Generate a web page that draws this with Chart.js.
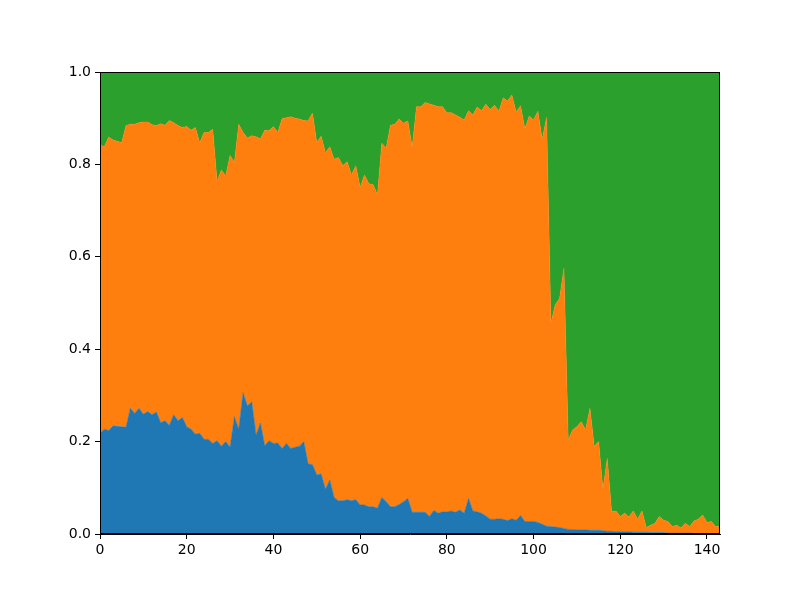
<!DOCTYPE html>
<html lang="en">
<head>
    <meta charset="UTF-8">
    <title>Stacked shares</title>
    <script src="https://cdn.jsdelivr.net/npm/chart.js"></script>
    <style>
        body {
            margin: 0;
            background: #ffffff;
        }
        .wrap {
            width: 800px;
            height: 600px;
        }
    </style>
</head>
<body>
    <div class="wrap">
        <canvas id="stackChart" width="800" height="600"></canvas>
    </div>

    <script>
        // values, one per step 0..143
        const blueShare = [
            0.218, 0.227, 0.224, 0.234, 0.233, 0.232, 0.231, 0.272, 0.261, 0.272,
            0.259, 0.265, 0.258, 0.264, 0.241, 0.245, 0.235, 0.258, 0.245, 0.252,
            0.232, 0.227, 0.216, 0.218, 0.205, 0.205, 0.196, 0.202, 0.190, 0.200,
            0.188, 0.254, 0.227, 0.306, 0.277, 0.286, 0.214, 0.240, 0.191, 0.202,
            0.196, 0.197, 0.185, 0.196, 0.185, 0.188, 0.190, 0.200, 0.152, 0.150,
            0.128, 0.130, 0.097, 0.117, 0.079, 0.072, 0.072, 0.074, 0.072, 0.074,
            0.063, 0.063, 0.059, 0.059, 0.056, 0.079, 0.070, 0.059, 0.059, 0.064,
            0.070, 0.077, 0.047, 0.047, 0.047, 0.047, 0.038, 0.051, 0.045, 0.048,
            0.048, 0.050, 0.047, 0.052, 0.045, 0.077, 0.050, 0.048, 0.045, 0.039,
            0.032, 0.032, 0.033, 0.032, 0.029, 0.033, 0.030, 0.040, 0.027, 0.027,
            0.027, 0.025, 0.021, 0.017, 0.016, 0.015, 0.014, 0.012, 0.010, 0.010,
            0.009, 0.009, 0.009, 0.008, 0.008, 0.008, 0.007, 0.006, 0.006, 0.005,
            0.005, 0.005, 0.005, 0.004, 0.004, 0.004, 0.004, 0.003, 0.003, 0.003,
            0.003, 0.002, 0.002, 0.002, 0.002, 0.002, 0.002, 0.001, 0.001, 0.001,
            0.001, 0.001, 0.001, 0.001
        ];

        // top edge of the orange band (blue + orange)
        const orangeTop = [
            0.842, 0.838, 0.859, 0.853, 0.850, 0.847, 0.884, 0.887, 0.887, 0.890,
            0.892, 0.892, 0.886, 0.884, 0.888, 0.885, 0.895, 0.890, 0.884, 0.880,
            0.882, 0.874, 0.880, 0.847, 0.869, 0.869, 0.876, 0.763, 0.788, 0.775,
            0.819, 0.804, 0.887, 0.869, 0.857, 0.862, 0.860, 0.855, 0.874, 0.873,
            0.882, 0.869, 0.899, 0.901, 0.903, 0.900, 0.898, 0.895, 0.894, 0.911,
            0.847, 0.861, 0.825, 0.838, 0.811, 0.815, 0.797, 0.806, 0.777, 0.797,
            0.750, 0.777, 0.758, 0.756, 0.734, 0.846, 0.835, 0.885, 0.887, 0.898,
            0.889, 0.894, 0.837, 0.925, 0.925, 0.934, 0.931, 0.928, 0.925, 0.925,
            0.912, 0.912, 0.907, 0.902, 0.896, 0.916, 0.907, 0.924, 0.916, 0.930,
            0.919, 0.928, 0.915, 0.944, 0.937, 0.950, 0.913, 0.927, 0.877, 0.905,
            0.896, 0.915, 0.854, 0.902, 0.456, 0.496, 0.510, 0.575, 0.203, 0.225,
            0.232, 0.243, 0.225, 0.272, 0.189, 0.200, 0.097, 0.164, 0.048, 0.050,
            0.038, 0.045, 0.037, 0.050, 0.032, 0.050, 0.014, 0.019, 0.023, 0.038,
            0.030, 0.027, 0.016, 0.019, 0.013, 0.023, 0.016, 0.028, 0.032, 0.041,
            0.025, 0.027, 0.016, 0.016
        ];

        const xTicks = [0, 20, 40, 60, 80, 100, 120, 140];
        const yTicks = [0.0, 0.2, 0.4, 0.6, 0.8, 1.0];

        const steps = blueShare.map((v, i) => i);
        const orangeShare = orangeTop.map((t, i) => t - blueShare[i]);
        const greenShare = orangeTop.map(t => 1 - t);

        function toPoints(arr) {
            return arr.map((v, i) => ({ x: steps[i], y: v }));
        }

        // top and right spines like matplotlib
        const frame = {
            id: 'frame',
            afterDatasetsDraw(chart) {
                const a = chart.chartArea;
                const c = chart.ctx;
                c.save();
                c.strokeStyle = '#000';
                c.lineWidth = 1;
                c.strokeRect(a.left + 0.5, a.top + 0.5, a.right - a.left - 1, a.bottom - a.top - 1);
                c.restore();
            }
        };

        const ctx = document.getElementById('stackChart').getContext('2d');
        new Chart(ctx, {
            type: 'line',
            data: {
                datasets: [
                    { data: toPoints(blueShare), backgroundColor: '#1f77b4', borderColor: '#1f77b4', fill: 'origin' },
                    { data: toPoints(orangeShare), backgroundColor: '#ff7f0e', borderColor: '#ff7f0e', fill: '-1' },
                    { data: toPoints(greenShare), backgroundColor: '#2ca02c', borderColor: '#2ca02c', fill: '-1' }
                ]
            },
            options: {
                responsive: false,
                animation: false,
                elements: {
                    point: { radius: 0 },
                    line: { borderWidth: 0.5, tension: 0 }
                },
                layout: {
                    padding: { left: 0, top: 72, right: 80, bottom: 0 }
                },
                plugins: {
                    legend: { display: false },
                    tooltip: { enabled: false }
                },
                scales: {
                    x: {
                        type: 'linear',
                        min: 0,
                        max: 143,
                        grid: { drawOnChartArea: false, drawTicks: true, tickLength: 5, color: '#000' },
                        border: { color: '#000' },
                        afterBuildTicks(axis) {
                            axis.ticks = xTicks.map(v => ({ value: v }));
                        },
                        afterFit(axis) { axis.height = 66; },
                        ticks: {
                            color: '#000',
                            font: { family: 'DejaVu Sans', size: 14 },
                            maxRotation: 0,
                            padding: 3,
                            callback: v => String(v)
                        }
                    },
                    y: {
                        stacked: true,
                        min: 0,
                        max: 1,
                        grid: { drawOnChartArea: false, drawTicks: true, tickLength: 5, color: '#000' },
                        border: { color: '#000' },
                        afterBuildTicks(axis) {
                            axis.ticks = yTicks.map(v => ({ value: v }));
                        },
                        afterFit(axis) { axis.width = 100; },
                        ticks: {
                            color: '#000',
                            font: { family: 'DejaVu Sans', size: 14 },
                            padding: 4,
                            callback: v => Number(v).toFixed(1)
                        }
                    }
                }
            },
            plugins: [frame]
        });
    </script>
</body>
</html>
